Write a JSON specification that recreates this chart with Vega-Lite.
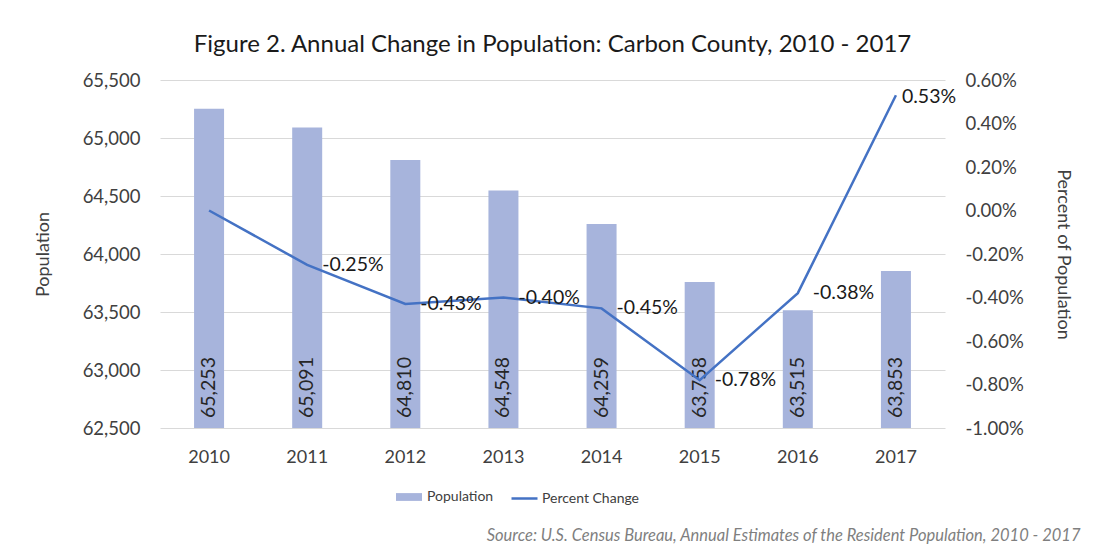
{
  "$schema": "https://vega.github.io/schema/vega-lite/v6.json",
  "width": 785,
  "height": 348,
  "autosize": "none",
  "padding": {"left": 160, "top": 80, "right": 151, "bottom": 118},
  "background": "white",
  "config": {
    "view": {"stroke": null},
    "font": "Lato",
    "locale": {"number": {"decimal": ".", "thousands": ",", "grouping": [3], "currency": ["$", ""], "minus": "-"}},
    "axis": {"labelFont": "Lato", "titleFont": "Lato", "labelColor": "#404040", "titleColor": "#404040", "titleFontWeight": "normal"},
    "legend": {"labelFont": "Lato", "labelColor": "#404040"}
  },
  "title": {"text": "Figure 2. Annual Change in Population: Carbon County, 2010 - 2017", "fontSize": 24, "font": "Lato", "fontWeight": "normal", "color": "#1a1a1a", "anchor": "middle", "offset": 14},
  "data": {"values": [
    {"year": "2010", "pop": 65253, "pct": 0.0},
    {"year": "2011", "pop": 65091, "pct": -0.0025},
    {"year": "2012", "pop": 64810, "pct": -0.0043},
    {"year": "2013", "pop": 64548, "pct": -0.0040},
    {"year": "2014", "pop": 64259, "pct": -0.0045},
    {"year": "2015", "pop": 63758, "pct": -0.0078},
    {"year": "2016", "pop": 63515, "pct": -0.0038},
    {"year": "2017", "pop": 63853, "pct": 0.0053}
  ]},
  "encoding": {
    "x": {"field": "year", "type": "ordinal", "scale": {"paddingInner": 0, "paddingOuter": 0},
      "axis": {"labelAngle": 0, "labelFontSize": 18, "labelPadding": 20, "domain": false, "ticks": false, "grid": false,
        "title": "Source: U.S. Census Bureau, Annual Estimates of the Resident Population, 2010 - 2017",
        "titleFontStyle": "italic", "titleFontSize": 16.5, "titleColor": "#7f7f7f", "titleAlign": "right", "titleAnchor": "end", "titleX": 920, "titleY": 112, "titleBaseline": "alphabetic"}}
  },
  "layer": [
    {"layer": [
      {"mark": {"type": "bar", "size": 30},
        "encoding": {
          "y": {"field": "pop", "type": "quantitative", "scale": {"domain": [62500, 65500], "zero": false, "nice": false},
            "axis": {"orient": "left", "values": [62500, 63000, 63500, 64000, 64500, 65000, 65500], "format": ",d", "labelFontSize": 18.5, "labelPadding": 20, "domain": false, "ticks": false, "grid": true, "gridColor": "#d9d9d9", "title": "Population", "titleFontSize": 18, "titlePadding": 30}},
          "y2": {"datum": 62500},
          "fill": {"datum": "Population", "type": "nominal", "scale": {"range": ["#A7B4DC"]},
            "legend": {"orient": "none", "legendX": 236, "legendY": 404, "title": null, "symbolType": "M-1,-0.3H1V0.3H-1Z", "symbolSize": 676, "symbolStrokeWidth": 0, "labelFontSize": 14, "labelOffset": 5}}
        }},
      {"mark": {"type": "text", "angle": 270, "align": "left", "baseline": "middle", "dx": 10, "fontSize": 19.5, "color": "#262626"},
        "encoding": {
          "y": {"datum": 62500, "type": "quantitative", "scale": {"domain": [62500, 65500], "zero": false, "nice": false},
            "axis": {"orient": "left", "values": [62500, 63000, 63500, 64000, 64500, 65000, 65500], "format": ",d", "labelFontSize": 18.5, "labelPadding": 20, "domain": false, "ticks": false, "grid": true, "gridColor": "#d9d9d9", "title": "Population", "titleFontSize": 18, "titlePadding": 30}},
          "text": {"field": "pop", "type": "quantitative", "format": ",d"}}}
    ]},
    {"encoding": {
        "y": {"field": "pct", "type": "quantitative", "scale": {"domain": [-0.01, 0.006], "nice": false, "zero": false},
          "axis": {"orient": "right", "values": [-0.01, -0.008, -0.006, -0.004, -0.002, 0, 0.002, 0.004, 0.006], "format": ".2%", "labelFontSize": 18.5, "labelPadding": 20, "domain": false, "ticks": false, "grid": false, "title": "Percent of Population", "titleFontSize": 18, "titlePadding": 30}}
      },
      "layer": [
      {"mark": {"type": "line", "strokeWidth": 2.5},
        "encoding": {
          "stroke": {"datum": "Percent Change", "type": "nominal", "scale": {"range": ["#4472C4"]},
            "legend": {"orient": "none", "legendX": 350, "legendY": 404, "title": null, "symbolType": "stroke", "symbolSize": 676, "symbolStrokeWidth": 2.5, "labelFontSize": 14, "labelOffset": 3}}
        }},
      {"transform": [{"filter": "datum.year != '2010' && datum.year != '2017'"}],
        "mark": {"type": "text", "align": "left", "baseline": "middle", "dx": 15, "fontSize": 19.5, "color": "#1a1a1a"},
        "encoding": {"text": {"field": "pct", "type": "quantitative", "format": ".2%"}}},
      {"transform": [{"filter": "datum.year == '2017'"}],
        "mark": {"type": "text", "align": "left", "baseline": "middle", "dx": 6, "dy": 2, "fontSize": 19.5, "color": "#1a1a1a"},
        "encoding": {"text": {"field": "pct", "type": "quantitative", "format": ".2%"}}}
    ]}
  ],
  "resolve": {"scale": {"y": "independent"}}
}
